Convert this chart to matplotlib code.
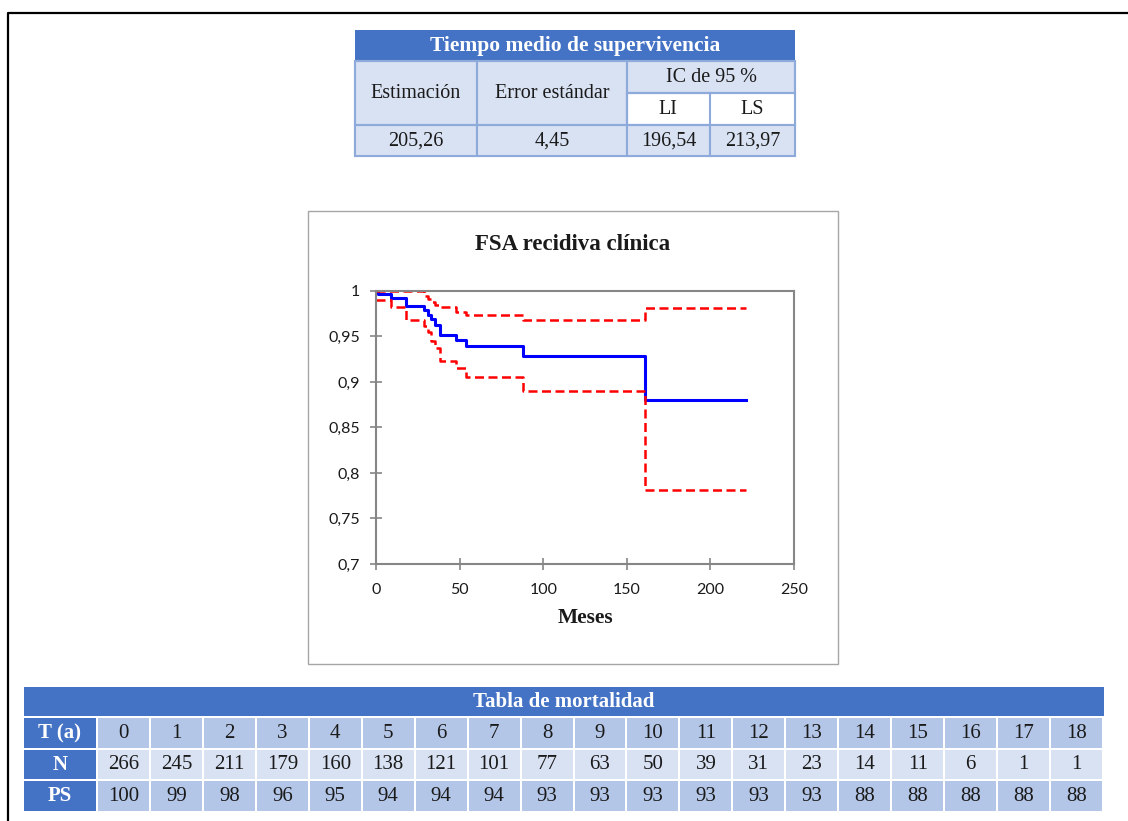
import matplotlib

matplotlib.use("Agg")
import matplotlib.pyplot as plt
from matplotlib.patches import Rectangle
from matplotlib.lines import Line2D
from matplotlib.ticker import FuncFormatter

# Kaplan-Meier estimate and 95 % confidence band (months)
km_t = [0, 1, 9, 18, 29, 31, 33, 35, 38, 48, 54, 88, 161, 221]
km_s = [1.0, 0.997, 0.992, 0.984, 0.979, 0.974, 0.969, 0.963, 0.952, 0.946, 0.940, 0.929, 0.880, 0.880]

lo_t = [0, 9, 18, 29, 31, 33, 35, 38, 48, 54, 88, 161, 221]
lo_s = [0.990, 0.982, 0.968, 0.962, 0.955, 0.945, 0.937, 0.923, 0.915, 0.906, 0.890, 0.781, 0.781]

up_t = [0, 29, 31, 33, 35, 38, 48, 54, 88, 161, 221]
up_s = [1.0, 0.995, 0.991, 0.988, 0.985, 0.982, 0.977, 0.974, 0.968, 0.981, 0.981]

# mean survival time table
mean_est = "205,26"
mean_se = "4,45"
mean_li = "196,54"
mean_ls = "213,97"

# life table
years = list(range(19))
n_risk = [266, 245, 211, 179, 160, 138, 121, 101, 77, 63, 50, 39, 31, 23, 14, 11, 6, 1, 1]
ps = [100, 99, 98, 96, 95, 94, 94, 94, 93, 93, 93, 93, 93, 93, 88, 88, 88, 88, 88]

W, H = 1128, 821
BLUE = "#4472C4"
LIGHT = "#D9E2F3"
MID = "#B4C6E7"
BORDER = "#8EAADB"

plt.rcParams["font.family"] = "serif"
plt.rcParams["font.serif"] = ["Liberation Serif", "DejaVu Serif"]

fig = plt.figure(figsize=(W / 100, H / 100), dpi=100)


def box(x0, y0, x1, y1, face, edge="none", lw=0.0):
    fig.add_artist(Rectangle((x0 / W, 1 - y1 / H), (x1 - x0) / W, (y1 - y0) / H,
                             transform=fig.transFigure, facecolor=face,
                             edgecolor=edge, linewidth=lw, zorder=0))


def label(x, y, s, color="#1a1a1a", size=14.5, bold=False):
    fig.text(x / W, 1 - y / H, s, ha="center", va="center", color=color,
             fontsize=size, fontweight="bold" if bold else "normal")


# page frame
fig.add_artist(Line2D([8 / W, 8 / W, 1.0], [0.0, 1 - 13 / H, 1 - 13 / H],
                      transform=fig.transFigure, color="black", linewidth=1.6))

# --- mean survival table ---
cols = [355, 477, 627, 710, 795]
box(355, 30, 795, 61, BLUE)
label(575, 46, "Tiempo medio de supervivencia", color="white", size=15.5, bold=True)
box(355, 61, 795, 156, LIGHT, BORDER, 1.5)
box(627, 93, 795, 125, "white", BORDER, 1.5)
for x0, x1 in zip(cols[:-1], cols[1:]):
    box(x0, 125, x1, 156, LIGHT, BORDER, 1.5)
box(355, 61, 477, 125, "none", BORDER, 1.5)
box(477, 61, 627, 125, "none", BORDER, 1.5)
box(627, 61, 795, 93, "none", BORDER, 1.5)
box(627, 93, 710, 125, "none", BORDER, 1.5)
label(416, 93, "Estimación")
label(552, 93, "Error estándar")
label(711, 77, "IC de 95 %")
label(668, 109, "LI")
label(752, 109, "LS")
for x0, x1, s in zip(cols[:-1], cols[1:], [mean_est, mean_se, mean_li, mean_ls]):
    label((x0 + x1) / 2, 141, s)

# --- survival chart ---
box(308, 211, 838, 664, "white", "#A6A6A6", 1.0)
label(573, 244, "FSA recidiva clínica", size=16.5, bold=True)
label(585, 618, "Meses", size=15.5, bold=True)

ax = fig.add_axes([376 / W, 1 - 564 / H, (794 - 376) / W, (564 - 291) / H])
ax.set_zorder(2)
ax.patch.set_alpha(0)
ax.step(km_t, km_s, where="post", color="#0000FF", linewidth=2.2)
ax.step(lo_t, lo_s, where="post", color="#FF0000", linewidth=1.8, dashes=(3.6, 1.8))
ax.step(up_t, up_s, where="post", color="#FF0000", linewidth=1.8, dashes=(3.6, 1.8))
ax.set_xlim(0, 250)
ax.set_ylim(0.7, 1.0)
ax.set_xticks(range(0, 251, 50))
ax.set_yticks([0.7, 0.75, 0.8, 0.85, 0.9, 0.95, 1.0])
ax.yaxis.set_major_formatter(FuncFormatter(lambda v, _: f"{v:g}".replace(".", ",")))
for sp in ax.spines.values():
    sp.set_color("#868686")
    sp.set_linewidth(1.5)
ax.tick_params(direction="inout", length=9, width=1.2, color="#868686",
               labelsize=11.5, labelcolor="#1a1a1a", labelfontfamily="Lato")
ax.tick_params(axis="x", pad=9)
ax.tick_params(axis="y", pad=7)

# --- life table ---
box(24, 687, 1104, 716, BLUE)
label(564, 702, "Tabla de mortalidad", color="white", size=15, bold=True)
rows = [("T (a)", years, MID, 718, 748),
        ("N", n_risk, LIGHT, 750, 779),
        ("PS", ps, MID, 781, 811)]
cw = (1104 - 98) / len(years)
for name, vals, face, y0, y1 in rows:
    box(24, y0, 96, y1, BLUE)
    label(60, (y0 + y1) / 2, name, color="white", size=15, bold=True)
    for i, v in enumerate(vals):
        x0 = 98 + i * cw
        box(x0, y0, x0 + cw - 2, y1, face)
        label(x0 + (cw - 2) / 2, (y0 + y1) / 2, str(v), size=15)

fig.savefig("out.png", dpi=100)
